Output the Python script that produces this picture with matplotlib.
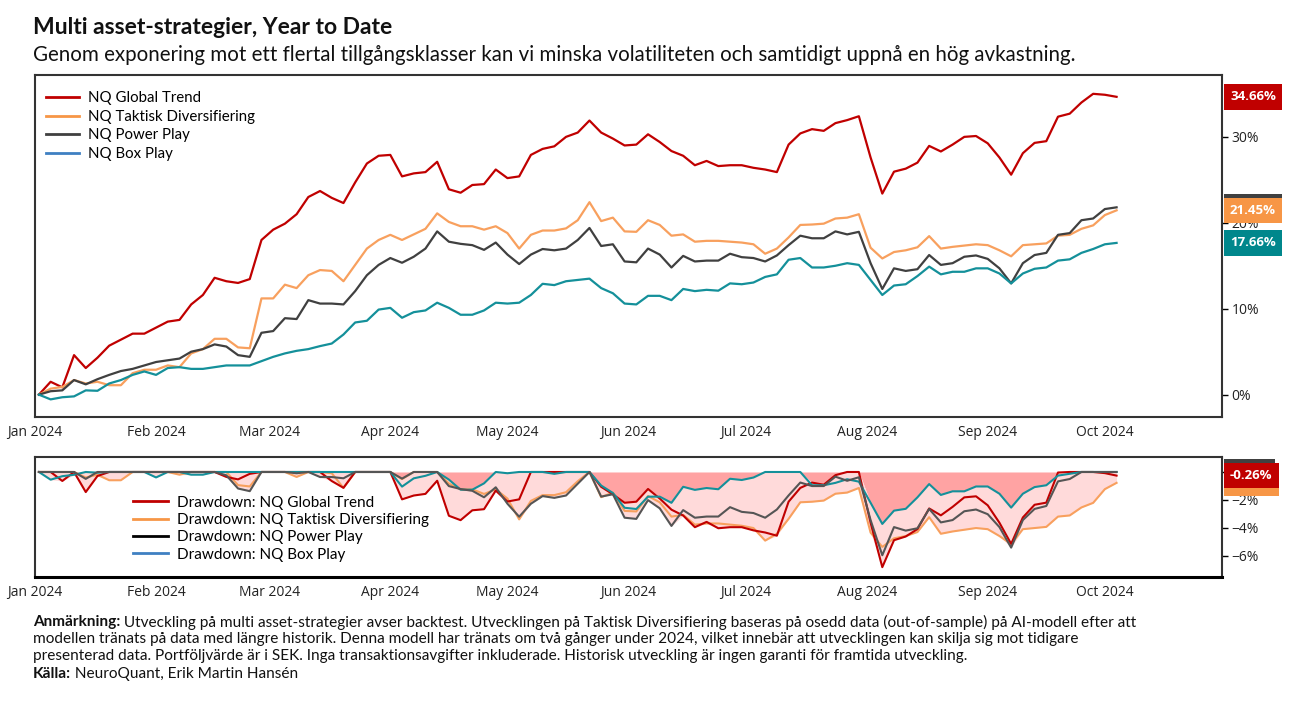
import matplotlib
matplotlib.use("Agg")
import matplotlib.pyplot as plt
import matplotlib.dates as mdates
from matplotlib.lines import Line2D
from matplotlib.ticker import FuncFormatter
import numpy as np
import pandas as pd

# Datum, var tredje dag fran 2 jan
dates = pd.date_range("2024-01-02", periods=93, freq="3D")

# Avkastning i procent (avlast fran bilden)
global_trend = [
    0.0, 1.5, 0.85, 4.6, 3.1, 4.3, 5.7, 6.4, 7.1, 7.1, 7.8, 8.5, 8.7, 10.5, 11.6, 13.6,
    13.2, 13.0, 13.45, 18.0, 19.2, 19.9, 21.0, 23.0,
    23.7, 22.9, 22.3, 24.7, 26.9, 27.8, 27.9, 25.4, 25.75, 25.9, 27.1, 23.9, 23.5, 24.4,
    24.5, 26.2, 25.2, 25.4, 27.9, 28.6, 28.9, 30.0, 30.5,
    31.9, 30.5, 29.8, 29.0, 29.1, 30.3, 29.4, 28.35, 27.8, 26.7, 27.2, 26.6, 26.7, 26.7,
    26.4, 26.2, 25.9, 29.1, 30.4, 30.9, 30.7, 31.6, 31.95,
    32.4, 27.6, 23.4, 25.95, 26.3, 27.0, 28.95, 28.3, 29.1, 30.0, 30.1, 29.25, 27.6, 25.6,
    28.1, 29.3, 29.5, 32.35, 32.7, 34.0, 35.01, 34.9, 34.66,
]
taktisk = [
    0.0, 0.7, 0.9, 1.7, 1.3, 1.5, 1.1, 1.1, 2.5, 2.9, 2.9, 3.4, 3.2, 4.8, 5.3, 6.5,
    6.5, 5.5, 5.4, 11.2, 11.2, 12.8, 12.4, 13.9,
    14.5, 14.4, 13.2, 15.1, 17.0, 18.0, 18.6, 18.0, 18.65, 19.3, 21.1, 20.1, 19.6, 19.6,
    19.2, 19.6, 18.8, 17.0, 18.6, 19.1, 19.1, 19.35, 20.3,
    22.4, 20.2, 20.6, 19.0, 18.95, 20.3, 19.75, 18.5, 18.65, 17.8, 17.9, 17.9, 17.8, 17.7,
    17.5, 16.4, 17.0, 18.3, 19.75, 19.8, 19.9, 20.5, 20.6,
    21.0, 17.1, 15.85, 16.6, 16.8, 17.15, 18.45, 17.0, 17.2, 17.35, 17.5, 17.4, 16.8, 16.1,
    17.4, 17.5, 17.6, 18.5, 18.6, 19.3, 19.7, 20.9, 21.45,
]
power_play = [
    0.0, 0.4, 0.5, 1.7, 1.2, 1.8, 2.3, 2.75, 3.0, 3.4, 3.8, 4.0, 4.2, 5.0, 5.3, 5.85,
    5.6, 4.6, 4.4, 7.2, 7.4, 8.9, 8.8, 11.0,
    10.6, 10.6, 10.5, 12.05, 13.9, 15.1, 15.9, 15.35, 16.05, 17.0, 19.0, 17.8, 17.55, 17.4,
    16.85, 17.7, 16.3, 15.2, 16.3, 16.95, 16.8, 17.0, 18.0,
    19.4, 17.3, 17.5, 15.5, 15.4, 17.0, 16.3, 14.8, 16.15, 15.5, 15.6, 15.6, 16.4, 16.0,
    15.9, 15.5, 16.2, 17.4, 18.5, 18.2, 18.2, 19.0, 18.65,
    18.95, 15.3, 12.3, 14.7, 14.4, 14.6, 16.25, 15.1, 15.3, 16.05, 16.2, 15.8, 14.7, 12.95,
    15.3, 16.25, 16.5, 18.6, 18.8, 20.3, 20.5, 21.6, 21.8,
]
box_play = [
    0.0, -0.55, -0.3, -0.2, 0.5, 0.45, 1.3, 1.7, 2.3, 2.7, 2.3, 3.1, 3.2, 3.0, 3.0, 3.2,
    3.4, 3.4, 3.4, 3.9, 4.4, 4.8, 5.1, 5.3,
    5.65, 5.95, 7.0, 8.4, 8.6, 9.9, 10.1, 8.95, 9.6, 9.8, 10.7, 10.1, 9.3, 9.3,
    9.8, 10.7, 10.6, 10.7, 11.6, 12.9, 12.75, 13.2, 13.35,
    13.5, 12.4, 11.8, 10.6, 10.5, 11.5, 11.5, 11.0, 12.3, 12.05, 12.2, 12.1, 12.95, 12.85,
    13.05, 13.7, 14.0, 15.7, 15.9, 14.8, 14.8, 15.0, 15.3,
    15.1, 13.35, 11.6, 12.7, 12.85, 13.8, 14.9, 14.0, 14.3, 14.3, 14.7, 14.7, 14.1, 12.95,
    14.1, 14.65, 14.8, 15.6, 15.75, 16.5, 16.95, 17.5, 17.66,
]

series_names = ["NQ Global Trend", "NQ Taktisk Diversifiering", "NQ Power Play", "NQ Box Play"]
line_colors = ["#C00000", "#F8A05E", "#404040", "#14909A"]
legend_colors = ["#C00000", "#F79646", "#404040", "#3F80C2"]
dd_legend_colors = ["#C00000", "#F79646", "#000000", "#3F80C2"]
box_colors = ["#C00000", "#F79646", "#404040", "#00878C"]

month_ticks = pd.date_range("2024-01-01", "2024-10-01", freq="MS")

title = "Multi asset-strategier, Year to Date"
subtitle = ("Genom exponering mot ett flertal tillgångsklasser kan vi minska volatiliteten "
            "och samtidigt uppnå en hög avkastning.")
note_lines = [
    ("Anmärkning:", " Utveckling på multi asset-strategier avser backtest. Utvecklingen på Taktisk "
     "Diversifiering baseras på osedd data (out-of-sample) på AI-modell efter att"),
    ("", "modellen tränats på data med längre historik. Denna modell har tränats om två gånger "
     "under 2024, vilket innebär att utvecklingen kan skilja sig mot tidigare"),
    ("", "presenterad data. Portföljvärde är i SEK. Inga transaktionsavgifter inkluderade. "
     "Historisk utveckling är ingen garanti för framtida utveckling."),
    ("Källa:", " NeuroQuant, Erik Martin Hansén"),
]

W, H = 1301, 706
fig = plt.figure(figsize=(W / 100, H / 100), dpi=100)
ax = fig.add_axes([35 / W, 1 - 417 / H, (1222 - 35) / W, (417 - 75) / H])
ax_dd = fig.add_axes([35 / W, 1 - 577 / H, (1222 - 35) / W, (577 - 457) / H])

all_series = [global_trend, taktisk, power_play, box_play]

# drawdown fran hogsta nivan
drawdowns = []
for s in all_series:
    v = 1 + np.array(s) / 100
    drawdowns.append((v / np.maximum.accumulate(v) - 1) * 100)

# Huvudgraf
for s, c in zip(all_series, line_colors):
    ax.plot(dates, s, color=c, lw=1.6)

handles = [Line2D([], [], color=c, lw=2) for c in legend_colors]
ax.legend(handles, series_names, loc="upper left", bbox_to_anchor=(0.004, 0.97),
          frameon=False, prop={"family": "Lato", "size": 10.8},
          handlelength=2.2, handletextpad=0.6, labelspacing=0.3, borderaxespad=0)

# Drawdown-graf
dd = np.array(drawdowns)
ax_dd.fill_between(dates, 0, dd.max(axis=0), color="#FFA3A3", lw=0)
ax_dd.fill_between(dates, dd.max(axis=0), dd.min(axis=0), color="#FFDADA", lw=0)
dd_line_colors = ["#C00000", "#F8A05E", "#555555", "#14909A"]
for i in [1, 0, 3, 2]:
    ax_dd.plot(dates, drawdowns[i], color=dd_line_colors[i], lw=1.5)

dd_handles = [Line2D([], [], color=c, lw=2) for c in dd_legend_colors]
ax_dd.legend(dd_handles, ["Drawdown: " + n for n in series_names], loc="upper left",
             bbox_to_anchor=(0.077, 0.73), frameon=False,
             prop={"family": "Lato", "size": 11},
             handlelength=2.3, handletextpad=0.6, labelspacing=0.22, borderaxespad=0)

# Axlar
for a in [ax, ax_dd]:
    a.set_xlim(pd.Timestamp("2024-01-01"), pd.Timestamp("2024-10-31"))
    a.set_xticks(month_ticks)
    a.xaxis.set_major_formatter(mdates.DateFormatter("%b %Y"))
    a.yaxis.tick_right()
    a.tick_params(axis="x", length=0, pad=6, labelsize=10, labelcolor="#222222")
    a.tick_params(axis="y", length=4, width=1, pad=3, labelsize=10, labelcolor="#222222")
    for lab in a.get_xticklabels() + a.get_yticklabels():
        lab.set_family("Open Sans")
    for sp in a.spines.values():
        sp.set_color("#333333")
        sp.set_linewidth(1.5)
ax_dd.spines["bottom"].set_color("#000000")
ax_dd.spines["bottom"].set_linewidth(2.2)

ax.set_ylim(-2.6, 37.2)
ax.set_yticks([0, 10, 20, 30])
ax.yaxis.set_major_formatter(FuncFormatter(lambda v, p: f"{v:.0f}%"))

ax_dd.set_ylim(-7.5, 1.07)
ax_dd.set_yticks([-6, -4, -2, 0])
ax_dd.yaxis.set_major_formatter(FuncFormatter(lambda v, p: f"{v:.0f}%".replace("-", "\u2212")))


def value_box(a, y, txt, color):
    a.annotate(txt, xy=(1, y), xycoords=("axes fraction", "data"),
               xytext=(8, 0), textcoords="offset pixels", ha="left", va="center",
               color="white", fontsize=9.5, fontweight="bold", family="Open Sans",
               annotation_clip=False, zorder=10,
               bbox=dict(boxstyle="square,pad=0.48", fc=color, ec="none"))


# Slutvarden till hoger
for i in [2, 1, 3, 0]:
    last = all_series[i][-1]
    value_box(ax, last, f"{last:.2f}%", box_colors[i])
for i in [3, 2, 1, 0]:
    last = drawdowns[i][-1]
    value_box(ax_dd, last, f"{last:.2f}%", box_colors[i])

# Titlar
fig.text(33 / W, 1 - 27 / H, title, family="Lato", fontweight="bold", fontsize=16.5,
         va="center", ha="left", color="#111111")
fig.text(33 / W, 1 - 55 / H, subtitle, family="Lato", fontsize=14.8,
         va="center", ha="left", color="#111111")

# Fotnot med fet inledning
renderer = fig.canvas.get_renderer()
note_y = [622, 639, 656, 674]
for (bold, rest), y in zip(note_lines, note_y):
    x0 = 33
    if bold:
        t = fig.text(x0 / W, 1 - y / H, bold, family="Lato", fontweight="bold",
                     fontsize=11.1, va="center", ha="left", color="#111111")
        x0 += t.get_window_extent(renderer).width
    fig.text(x0 / W, 1 - y / H, rest, family="Lato", fontsize=11.1,
             va="center", ha="left", color="#111111")

fig.savefig("out.png", dpi=100)
